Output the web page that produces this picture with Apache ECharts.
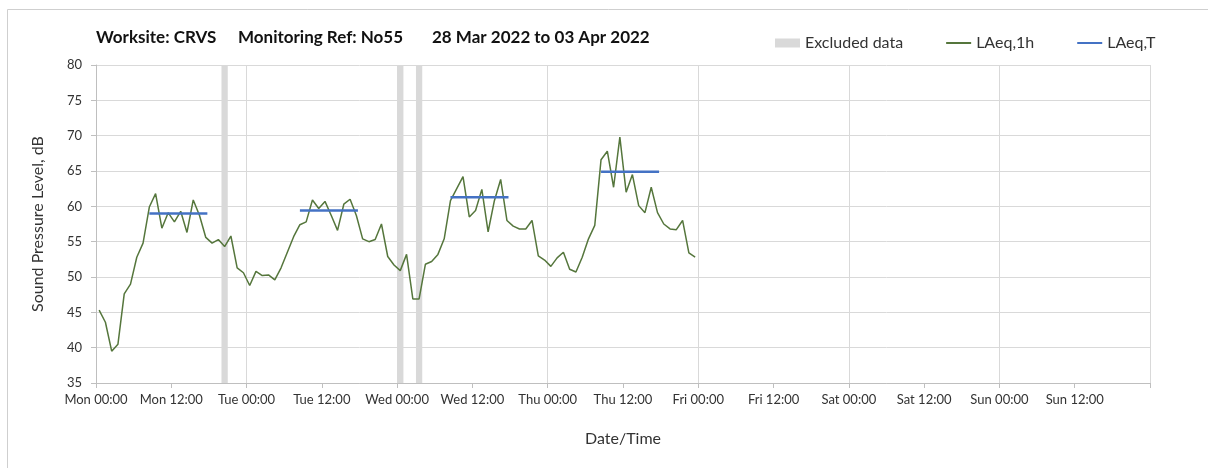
<!DOCTYPE html>
<html>
<head>
<meta charset="utf-8">
<title>CRVS N055</title>
<script src="https://cdn.jsdelivr.net/npm/echarts@6/dist/echarts.min.js"></script>
<style>
    html,body{margin:0;padding:0;background:#fff;}
    #main{width:1208px;height:468px;}
</style>
</head>
<body>
<div id="main"></div>
<script>
// hourly LAeq,1h values, Mon 00:00 -> Fri 00:00 (one value per hour)
var laeq1h = [
    45.3, 43.6, 39.5, 40.5, 47.6, 49.0, 52.8, 54.8, 59.9, 61.8, 56.9, 59.1,
    57.8, 59.3, 56.3, 60.9, 58.7, 55.6, 54.8, 55.3, 54.3, 55.8, 51.3, 50.6,
    48.8, 50.8, 50.2, 50.3, 49.6, 51.3, 53.5, 55.7, 57.4, 57.8, 60.9, 59.7,
    60.7, 58.7, 56.6, 60.3, 61.0, 58.7, 55.4, 55.0, 55.3, 57.5, 52.9, 51.7,
    50.9, 53.2, 46.9, 46.9, 51.8, 52.2, 53.2, 55.4, 60.8, 62.5, 64.2, 58.5,
    59.4, 62.4, 56.4, 60.8, 63.8, 58.0, 57.2, 56.8, 56.8, 58.0, 53.0, 52.4,
    51.5, 52.7, 53.5, 51.1, 50.7, 52.8, 55.4, 57.3, 66.6, 67.8, 62.7, 69.8,
    62.0, 64.5, 60.1, 59.1, 62.7, 59.1, 57.5, 56.8, 56.7, 58.0, 53.4, 52.8
];
// LAeq,T per day (daytime period)
var laeqTDays = [0, 1, 2, 3];
var laeqT = [59.0, 59.4, 61.3, 64.9];
var periodStart = 8.5;   // hours into the day
var periodEnd = 17.75;
// excluded data, [from hour, to hour] counted from Mon 00:00
var excluded = [[20, 21], [48, 49], [51, 52]];
// x axis tick labels, every 12 h
var tickLabels = ['Mon 00:00', 'Mon 12:00', 'Tue 00:00', 'Tue 12:00', 'Wed 00:00', 'Wed 12:00',
    'Thu 00:00', 'Thu 12:00', 'Fri 00:00', 'Fri 12:00', 'Sat 00:00', 'Sat 12:00', 'Sun 00:00', 'Sun 12:00'];

var font = 'Lato';
var chart = echarts.init(document.getElementById('main'));

// points sit in the middle of their hour
var lineData = [];
for (var i = 0; i < laeq1h.length; i++) {
    lineData.push([i + 0.5, laeq1h[i]]);
}

var series = [
    {
        name: 'Excluded data',
        type: 'line',
        data: [],
        color: '#d9d9d9',
        z: 1,
        markArea: {
            silent: true,
            itemStyle: {color: '#d9d9d9'},
            data: excluded.map(function (e) {
                return [{xAxis: e[0]}, {xAxis: e[1]}];
            })
        }
    },
    {
        name: 'LAeq,1h',
        type: 'line',
        data: lineData,
        symbol: 'none',
        color: '#55763c',
        lineStyle: {width: 1.5, color: '#55763c'},
        z: 3
    }
];
// one short flat line per day
laeqTDays.forEach(function (d, k) {
    series.push({
        name: 'LAeq,T',
        type: 'line',
        symbol: 'none',
        color: '#4472c4',
        lineStyle: {width: 2.5, color: '#4472c4'},
        z: 4,
        data: [[d * 24 + periodStart, laeqT[k]], [d * 24 + periodEnd, laeqT[k]]]
    });
});

var titleStyle = {fontFamily: font, fontSize: 17, fontWeight: 'bold', color: '#111'};

var option = {
    animation: false,
    textStyle: {fontFamily: font},
    title: [
        {text: 'Worksite: CRVS', left: 96, top: 29, padding: 0, textStyle: titleStyle},
        {text: 'Monitoring Ref: No55', left: 238, top: 29, padding: 0, textStyle: titleStyle},
        {text: '28 Mar 2022 to 03 Apr 2022', left: 432, top: 29, padding: 0, textStyle: titleStyle}
    ],
    legend: {
        left: 770,
        top: 30,
        itemWidth: 25,
        itemHeight: 9,
        itemGap: 42,
        textStyle: {fontFamily: font, fontSize: 16, color: '#333'},
        data: [
            {name: 'Excluded data', icon: 'rect', itemStyle: {color: '#d9d9d9'}},
            // hide the circle, keep only the line
            {name: 'LAeq,1h', itemStyle: {opacity: 0}},
            {name: 'LAeq,T', itemStyle: {opacity: 0}}
        ]
    },
    grid: {left: 96, right: 58, top: 65, bottom: 85},
    xAxis: [
        {
            type: 'value',
            min: 0,
            max: 168,
            interval: 12,
            name: 'Date/Time',
            nameLocation: 'middle',
            nameGap: 48,
            nameTextStyle: {fontFamily: font, fontSize: 16, color: '#333'},
            axisLine: {show: true, lineStyle: {color: '#bfbfbf'}},
            axisTick: {show: true, length: 5, lineStyle: {color: '#bfbfbf'}},
            axisLabel: {
                margin: 10,
                fontFamily: font,
                fontSize: 13,
                color: '#333',
                formatter: function (v) {
                    return tickLabels[Math.round(v / 12)] || '';
                }
            },
            splitLine: {show: false}
        },
        {
            // day grid lines only
            type: 'value',
            min: 0,
            max: 168,
            interval: 24,
            axisLine: {show: false},
            axisTick: {show: false},
            axisLabel: {show: false},
            splitLine: {show: true, lineStyle: {color: '#d9d9d9'}}
        }
    ],
    yAxis: {
        type: 'value',
        min: 35,
        max: 80,
        interval: 5,
        name: 'Sound Pressure Level, dB',
        nameLocation: 'middle',
        nameGap: 50,
        nameTextStyle: {fontFamily: font, fontSize: 16, color: '#333'},
        axisLine: {show: true, lineStyle: {color: '#bfbfbf'}},
        axisTick: {show: true, length: 5, lineStyle: {color: '#bfbfbf'}},
        axisLabel: {margin: 14, fontFamily: font, fontSize: 13, color: '#333'},
        splitLine: {show: true, lineStyle: {color: '#d9d9d9'}}
    },
    graphic: [
        {
            // chart border, runs off the picture on the right and bottom
            type: 'rect',
            left: 5,
            top: 7,
            silent: true,
            shape: {width: 1300, height: 600},
            style: {fill: 'none', stroke: '#cfcfcf', lineWidth: 1}
        }
    ],
    series: series
};

chart.setOption(option);
</script>
</body>
</html>
